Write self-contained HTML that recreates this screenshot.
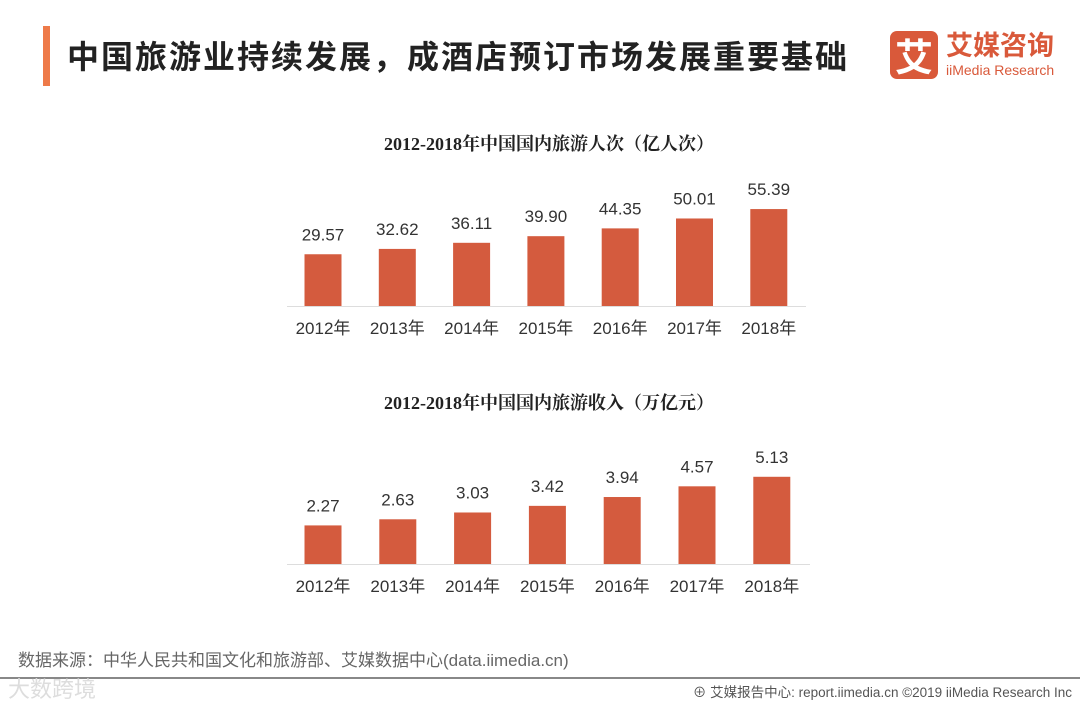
<!DOCTYPE html>
<html><head><meta charset="utf-8"><style>
body{margin:0;width:1080px;height:702px;background:#fff;overflow:hidden;position:relative;font-family:"Liberation Sans","Noto Sans CJK SC",sans-serif}
.abs{position:absolute}
</style></head><body>
<div class="abs" style="left:43px;top:26px;width:7px;height:60px;background:#ee7a49"></div>
<div class="abs" style="left:67px;top:32px;font-size:32px;font-weight:bold;color:#222;font-family:'Noto Sans CJK SC',sans-serif;letter-spacing:2px;white-space:nowrap">中国旅游业持续发展，成酒店预订市场发展重要基础</div>
<div class="abs" style="left:890px;top:31px;width:48px;height:48px;background:#d9593a;border-radius:7px;color:#fff;font-size:38px;font-weight:bold;text-align:center;line-height:48px;font-family:'Noto Sans CJK SC',sans-serif">艾</div>
<div class="abs" style="left:946px;top:28px;color:#d9593a;font-size:27px;font-weight:bold;font-family:'Noto Sans CJK SC',sans-serif;line-height:32px">艾媒咨询</div>
<div class="abs" style="left:946px;top:62px;color:#d9593a;font-size:14px;line-height:16px">iiMedia Research</div>
<svg class="abs" style="left:0;top:0" width="1080" height="702">
<g id="c1"></g>
<g id="c2"></g>
</svg>
<div class="abs" style="left:18px;top:646px;font-size:17px;color:#666">数据来源：中华人民共和国文化和旅游部、艾媒数据中心(data.iimedia.cn)</div>
<div class="abs" style="left:0;top:677px;width:1080px;height:2px;background:#888"></div>
<div class="abs" style="left:8px;top:672px;font-size:22px;color:#ddd">大数跨境</div>
<div class="abs" style="right:8px;top:681px;font-size:13.5px;color:#555">⊕ 艾媒报告中心: report.iimedia.cn  ©2019  iiMedia Research Inc</div>
<script>
const years=["2012年","2013年","2014年","2015年","2016年","2017年","2018年"];
const trips=[29.57,32.62,36.11,39.90,44.35,50.01,55.39];
const tripLabels=["29.57","32.62","36.11","39.90","44.35","50.01","55.39"];
const revenue=[2.27,2.63,3.03,3.42,3.94,4.57,5.13];
const revLabels=["2.27","2.63","3.03","3.42","3.94","4.57","5.13"];
const NS="http://www.w3.org/2000/svg";
function mk(g,tag,attrs,txt){const e=document.createElementNS(NS,tag);for(const k in attrs)e.setAttribute(k,attrs[k]);if(txt!=null)e.textContent=txt;g.appendChild(e);return e;}
function draw(id,title,vals,labels,cfg){
 const g=document.getElementById(id);
 const y=v=>cfg.base-v*cfg.scale;
 const x=i=>cfg.x0+i*cfg.step;
 const t=mk(g,'text',{x:549,y:cfg.titleY,'text-anchor':'middle','font-size':18,'font-weight':'bold',fill:'#222','font-family':'Liberation Serif,Noto Serif CJK SC,serif'},title);
 
 
 const ax=mk(g,'line',{x1:cfg.ax0,x2:cfg.ax1,y1:cfg.base+0.5,y2:cfg.base+0.5,stroke:'#ddd'});
 
 
 vals.forEach((v,i)=>{
  const b=mk(g,'rect',{x:x(i)-18.5,y:y(v),width:37,height:cfg.base-y(v),fill:'#d45b3e'});
  
  
  const l=mk(g,'text',{x:x(i),y:y(v)-14,'text-anchor':'middle','font-size':17,fill:'#333'},labels[i]);
  
  
  const c=mk(g,'text',{x:x(i),y:cfg.base+28,'text-anchor':'middle','font-size':17,fill:'#333'},years[i]);
  
  
 });
}
draw('c1','2012-2018年中国国内旅游人次（亿人次）',trips,tripLabels,{base:306,scale:1.75,x0:323,step:74.3,ax0:287,ax1:806,titleY:150});
draw('c2','2012-2018年中国国内旅游收入（万亿元）',revenue,revLabels,{base:564,scale:17,x0:323,step:74.8,ax0:287,ax1:810,titleY:409});
</script>
</body></html>
